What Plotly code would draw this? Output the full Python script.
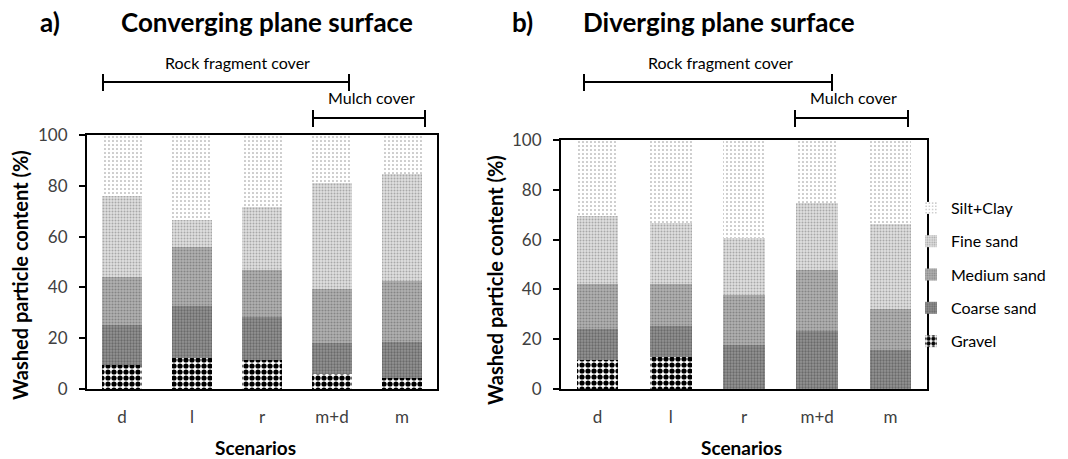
import plotly.graph_objects as go

scenarios = ["d", "l", "r", "m+d", "m"]
classes = ["Gravel", "Coarse sand", "Medium sand", "Fine sand", "Silt+Clay"]

# Layer values (%)
conv = {
    "Gravel":      [9.5, 12.3, 11.5, 5.8, 4.5],
    "Coarse sand": [15.8, 20.2, 16.7, 12.2, 13.9],
    "Medium sand": [18.9, 23.6, 18.6, 21.3, 24.0],
    "Fine sand":   [31.8, 10.6, 24.7, 42.0, 42.2],
    "Silt+Clay":   [24.0, 33.3, 28.5, 18.7, 15.4],
}
div = {
    "Gravel":      [11.5, 12.7, 0.0, 0.0, 0.0],
    "Coarse sand": [12.7, 12.8, 17.8, 23.3, 15.5],
    "Medium sand": [18.0, 16.7, 19.8, 24.6, 16.6],
    "Fine sand":   [27.1, 24.4, 23.0, 27.0, 34.2],
    "Silt+Clay":   [30.7, 33.4, 39.4, 25.1, 33.7],
}
legend_rank = {"Silt+Clay": 1, "Fine sand": 2, "Medium sand": 3, "Coarse sand": 4, "Gravel": 5}

patterns = {
    "Gravel":      dict(shape=".", fgcolor="#000000", bgcolor="#ffffff", size=6, solidity=0.6, fgopacity=1),
    "Coarse sand": dict(shape=".", fgcolor="#6a6a6a", bgcolor="#949494", size=3, solidity=0.45, fgopacity=1),
    "Medium sand": dict(shape=".", fgcolor="#858585", bgcolor="#b2b2b2", size=3, solidity=0.4, fgopacity=1),
    "Fine sand":   dict(shape=".", fgcolor="#a8a8a8", bgcolor="#e0e0e0", size=3, solidity=0.35, fgopacity=1),
    "Silt+Clay":   dict(shape=".", fgcolor="#8c8c8c", bgcolor="#ffffff", size=4, solidity=0.12, fgopacity=1),
}

FONT = "Lato"
fig = go.Figure()

for cls in classes:
    for data, xa, ya, show in [(conv, "x", "y", True), (div, "x2", "y2", False)]:
        fig.add_trace(go.Bar(
            x=scenarios, y=data[cls], name=cls, legendgroup=cls, showlegend=show,
            legendrank=legend_rank[cls],
            xaxis=xa, yaxis=ya, width=0.57,
            marker=dict(color=patterns[cls]["bgcolor"], line=dict(width=0),
                        pattern=patterns[cls]),
        ))

axis_common = dict(showline=True, linecolor="black", linewidth=2, mirror=True,
                   showgrid=False, zeroline=False, automargin=False,
                   tickfont=dict(family=FONT, size=17, color="#404040"))
xcommon = dict(ticks="", ticklen=0, ticklabelstandoff=12, **axis_common)
ycommon = dict(range=[0, 100], dtick=20, ticks="outside", ticklen=6, tickwidth=1.5,
               tickcolor="black", ticklabelstandoff=8, **axis_common)
fig.update_layout(
    width=1068, height=459, barmode="stack",
    margin=dict(l=0, r=0, t=0, b=0),
    paper_bgcolor="white", plot_bgcolor="white",
    font=dict(family=FONT, color="black"),
    xaxis=dict(domain=[87/1068, 437/1068], anchor="y", **xcommon),
    yaxis=dict(domain=[70/459, 324/459], anchor="x", **ycommon),
    xaxis2=dict(domain=[561/1068, 927/1068], anchor="y2", **xcommon),
    yaxis2=dict(domain=[70/459, 319/459], anchor="x2", **ycommon),
    legend=dict(x=911/1068, y=1-191/459, xanchor="left", yanchor="top",
                traceorder="grouped", tracegroupgap=9.5,
                font=dict(family=FONT, size=16, color="black"),
                itemwidth=30, bgcolor="rgba(0,0,0,0)"),
    showlegend=True,
)

def px_x(p):
    return p / 1068

def px_y(p):
    return 1 - p / 459

anns = [
    ("a)", 50, 22, 26, True),
    ("Converging plane surface", 267, 22, 26, True),
    ("b)", 522, 22, 26, True),
    ("Diverging plane surface", 719, 22, 26, True),
    ("Rock fragment cover", 237, 62, 16, False),
    ("Mulch cover", 371, 98, 16, False),
    ("Rock fragment cover", 720, 62, 16, False),
    ("Mulch cover", 853, 98, 16, False),
    ("Scenarios", 255, 447, 19, True),
    ("Scenarios", 741, 447, 19, True),
]
for text, x, y, s, b in anns:
    fig.add_annotation(text=f"<b>{text}</b>" if b else text, x=px_x(x), y=px_y(y),
                       xref="paper", yref="paper", showarrow=False,
                       xanchor="center", yanchor="middle",
                       font=dict(family=FONT, size=s, color="black"))
for x, y in [(20, 275), (495, 280)]:
    fig.add_annotation(text="<b>Washed particle content (%)</b>", x=px_x(x), y=px_y(y),
                       xref="paper", yref="paper", showarrow=False, textangle=-90,
                       xanchor="center", yanchor="middle",
                       font=dict(family=FONT, size=20, color="black"))

# brackets: (x0 px, x1 px, y px)
brackets = [(103, 349, 82), (313, 425, 118), (584, 832, 82), (795, 908, 118)]
for x0, x1, y in brackets:
    fig.add_shape(type="line", xref="paper", yref="paper", x0=px_x(x0), x1=px_x(x1),
                  y0=px_y(y), y1=px_y(y), line=dict(color="black", width=2))
    for xx in (x0, x1):
        fig.add_shape(type="line", xref="paper", yref="paper", x0=px_x(xx), x1=px_x(xx),
                      y0=px_y(y - 8), y1=px_y(y + 9), line=dict(color="black", width=2))

fig.write_html("out.html")
